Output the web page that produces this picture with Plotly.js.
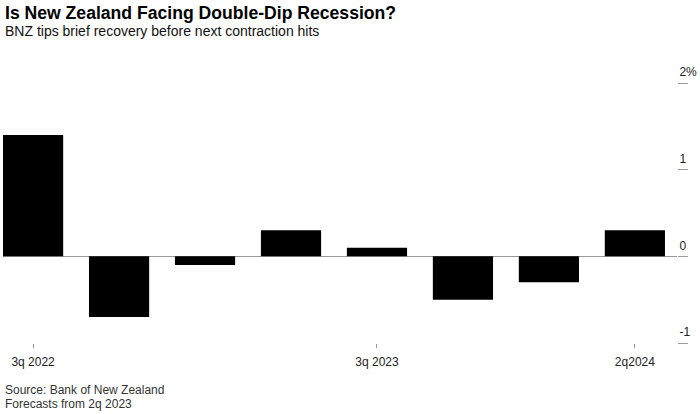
<!DOCTYPE html>
<html>
<head>
<meta charset="utf-8">
<script src="https://cdn.plot.ly/plotly-3.0.1.min.js"></script>
<style>html,body{margin:0;padding:0;background:#fff;}#chart{width:700px;height:414px;}</style>
</head>
<body>
<div id="chart"></div>
<script>
const quarters = ['3q 2022','4q 2022','1q 2023','2q 2023','3q 2023','4q 2023','1q 2024','2q 2024'];
const gdpChange = [1.4, -0.7, -0.1, 0.3, 0.1, -0.5, -0.3, 0.3];
const xTickVals = ['3q 2022','3q 2023','2q 2024'];
const xTickText = ['3q 2022','3q 2023','2q2024'];
const yTickVals = [-1, 0, 1, 2];
const yTickText = ['-1', '0', '1', '2%'];

const FONT = 'Liberation Sans, Arial, Helvetica, sans-serif';

const data = [{
  type: 'bar',
  x: quarters,
  y: gdpChange,
  marker: {color: '#000000', line: {width: 0}},
  hoverinfo: 'x+y'
}];

const layout = {
  width: 700, height: 414,
  margin: {l: 3, r: 23, t: 83, b: 71, pad: 0},
  paper_bgcolor: '#ffffff', plot_bgcolor: '#ffffff',
  font: {family: FONT, size: 12, color: '#333333'},
  bargap: 0.3,
  showlegend: false,
  xaxis: {
    type: 'category',
    range: [-0.35, 7.49],
    tickmode: 'array', tickvals: xTickVals, ticktext: xTickText,
    ticks: 'outside', ticklen: 4, tickwidth: 1, tickcolor: '#999999',
    ticklabelstandoff: 4,
    showgrid: false, showline: false, zeroline: false,
    tickfont: {family: FONT, size: 12, color: '#222222'}
  },
  yaxis: {
    side: 'right',
    range: [-1, 2],
    tickmode: 'array', tickvals: yTickVals, ticktext: yTickText,
    ticks: 'outside', ticklen: 10, tickwidth: 1, tickcolor: '#999999',
    ticklabelstandoff: -11, ticklabelshift: -11,
    showgrid: false, showline: false,
    zeroline: true, zerolinecolor: '#999999', zerolinewidth: 1,
    tickfont: {family: FONT, size: 12, color: '#222222'}
  },
  annotations: [
    {text: '<b>Is New Zealand Facing Double-Dip Recession?</b>', xref: 'paper', yref: 'paper', x: 0, y: 1, xanchor: 'left', yanchor: 'middle', yshift: 70, showarrow: false, font: {family: FONT, size: 17.6, color: '#000000'}},
    {text: 'BNZ tips brief recovery before next contraction hits', xref: 'paper', yref: 'paper', x: 0, y: 1, xanchor: 'left', yanchor: 'middle', yshift: 52, showarrow: false, font: {family: FONT, size: 14, color: '#111111'}},
    {text: 'Source: Bank of New Zealand', xref: 'paper', yref: 'paper', x: 0, y: 0, xanchor: 'left', yanchor: 'middle', yshift: -47, showarrow: false, font: {family: FONT, size: 12, color: '#333333'}},
    {text: 'Forecasts from 2q 2023', xref: 'paper', yref: 'paper', x: 0, y: 0, xanchor: 'left', yanchor: 'middle', yshift: -61, showarrow: false, font: {family: FONT, size: 12, color: '#333333'}}
  ]
};

Plotly.newPlot('chart', data, layout, {displayModeBar: false, staticPlot: true});
</script>
</body>
</html>
